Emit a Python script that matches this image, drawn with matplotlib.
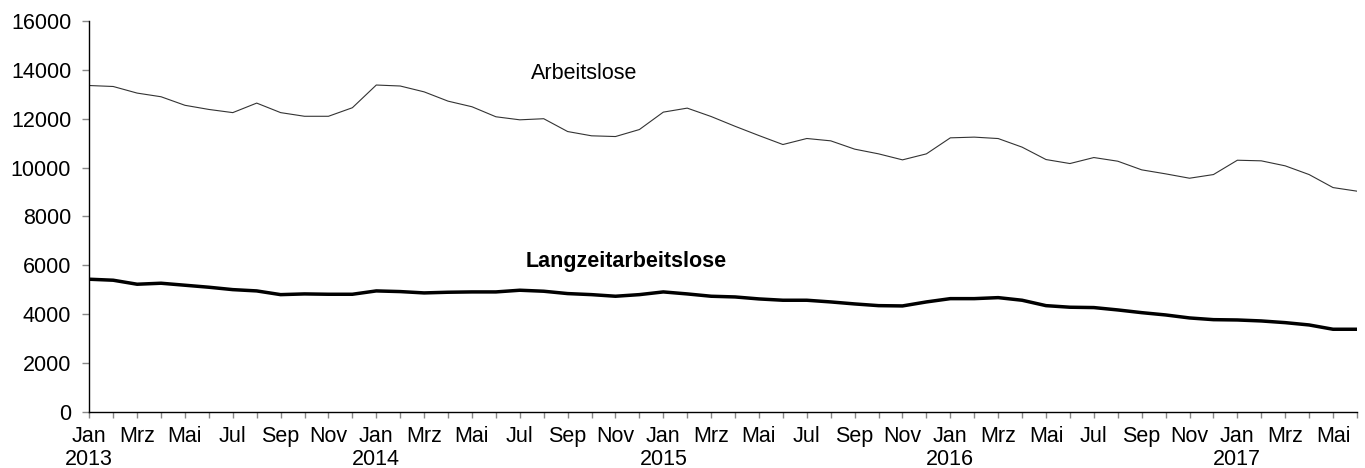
import matplotlib
matplotlib.use('Agg')
import matplotlib.pyplot as plt
import numpy as np

plt.rcParams['font.family'] = ['Liberation Sans', 'DejaVu Sans']

# monthly values Jan 2013 - Jun 2017
months = ['Jan', 'Feb', 'Mrz', 'Apr', 'Mai', 'Jun', 'Jul', 'Aug', 'Sep', 'Okt', 'Nov', 'Dez']
years = [2013, 2014, 2015, 2016, 2017]

arbeitslose = [13360, 13320, 13050, 12900, 12550, 12380, 12250, 12640, 12250, 12100, 12100, 12450,
               13380, 13340, 13100, 12720, 12490, 12080, 11955, 12000, 11475, 11300, 11270, 11557,
               12270, 12434, 12090, 11690, 11310, 10943, 11190, 11094, 10754, 10561, 10315, 10561,
               11217, 11246, 11188, 10836, 10328, 10164, 10410, 10260, 9906, 9742, 9563, 9713,
               10300, 10275, 10070, 9713, 9180, 9033]

langzeit = [5426, 5385, 5221, 5262, 5180, 5098, 5000, 4947, 4795, 4824, 4810, 4810,
            4947, 4920, 4865, 4893, 4906, 4906, 4975, 4934, 4838, 4795, 4729, 4795,
            4906, 4824, 4729, 4700, 4619, 4565, 4565, 4496, 4414, 4344, 4332, 4496,
            4631, 4631, 4672, 4565, 4344, 4279, 4265, 4168, 4057, 3963, 3840, 3770,
            3757, 3717, 3648, 3553, 3377, 3377]

x = np.arange(len(arbeitslose))

# tick labels: every second month, year below January
labels = []
for i in x:
    m = months[i % 12]
    if i % 2 == 1:
        labels.append('')
    elif i % 12 == 0:
        labels.append(m + '\n' + str(years[i // 12]))
    else:
        labels.append(m)

fs = 15.5

fig = plt.figure(figsize=(13.65, 4.68), dpi=100)
ax = fig.add_axes([0.0654, 0.1203, 0.9287, 0.8347])

ax.plot(x, arbeitslose, color='#333333', lw=0.8)
ax.plot(x, langzeit, color='black', lw=2.5)

ax.text(20.7, 13840, 'Arbeitslose', fontsize=fs, ha='center', va='center')
ax.text(22.45, 6135, 'Langzeitarbeitslose', fontsize=fs, fontweight='bold', ha='center', va='center')

ax.set_xlim(0, len(x) - 1)
ax.set_ylim(0, 16000)
ax.set_yticks(range(0, 16001, 2000))
ax.set_xticks(x)
ax.set_xticklabels(labels, linespacing=1.1)

for s in ['top', 'right']:
    ax.spines[s].set_visible(False)
ax.spines['left'].set_linewidth(1.0)
ax.spines['bottom'].set_linewidth(1.0)

ax.tick_params(axis='y', direction='out', length=5, width=1, color='#888888', labelsize=fs, pad=8)
ax.tick_params(axis='x', direction='out', length=4.5, width=1, color='#888888', labelsize=fs, pad=6)

fig.savefig('out.png', dpi=100)
